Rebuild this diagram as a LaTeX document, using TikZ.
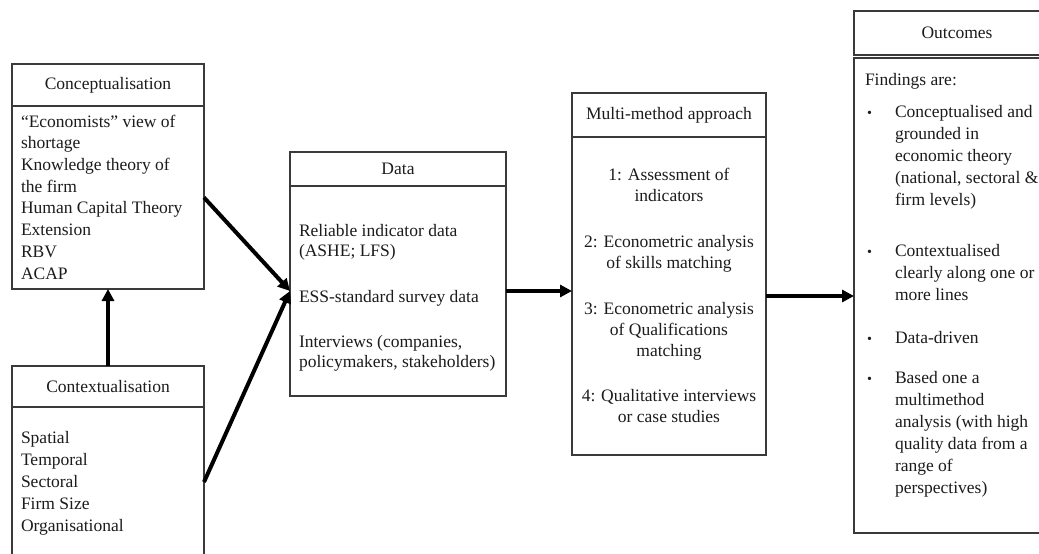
\documentclass[tikz,border=0pt]{standalone}
\usepackage{fontspec}
\setmainfont{Liberation Serif}
\usetikzlibrary{arrows.meta}
\definecolor{ink}{HTML}{1C1C1C}
\definecolor{rule}{HTML}{3A3A3A}
\tikzset{
  frame/.style={draw=rule, line width=1.3pt, inner sep=0pt, outer sep=0pt,
    anchor=north west, text=ink, font=\fontsize{17.5}{21.7}\selectfont},
  txt/.style={inner sep=0pt, outer sep=0pt, text=ink,
    font=\fontsize{17.5}{21.7}\selectfont},
  flow/.style={line width=4pt, -{Triangle[length=12pt,width=12pt]}},
}
\newcommand{\bul}{\llap{{\fontsize{14}{14}\selectfont\textbullet}\hspace{23pt}}}
\begin{document}
\begin{tikzpicture}[x=1pt,y=-1pt]
\clip (0,0) rectangle (1039,554);
\fill[white] (0,0) rectangle (1039,554);

% Multi-line text blocks are placed by the baseline of their last line.

% Conceptualisation
\node[frame, minimum width=192, minimum height=42] (chead) at (12,64) {Conceptualisation};
\node[frame, minimum width=192, minimum height=183] (cbody) at (12,106) {};
\node[txt, align=left, anchor=base west] (ctext) at (21,279)
  {“Economists” view of\\shortage\\Knowledge theory of\\the firm\\Human Capital Theory\\Extension\\RBV\\ACAP};

% Contextualisation
\node[frame, minimum width=192, minimum height=41] (xhead) at (12,366) {Contextualisation};
\node[frame, minimum width=192, minimum height=150] (xbody) at (12,407) {};
\node[txt, align=left, anchor=base west, font=\fontsize{17.5}{22}\selectfont] (xtext) at (21,531)
  {Spatial\\Temporal\\Sectoral\\Firm Size\\Organisational};

% Data
\node[frame, minimum width=216, minimum height=34] (dhead) at (290,152) {Data};
\node[frame, minimum width=216, minimum height=210] (dbody) at (290,186) {};
\node[txt, align=left, anchor=base west, font=\fontsize{17.5}{20}\selectfont] (dtext) at (299,367)
  {Reliable indicator data\\(ASHE; LFS)\\[26pt]ESS-standard survey data\\[25pt]Interviews (companies,\\policymakers, stakeholders)};

% Multi-method approach
\node[frame, minimum width=194, minimum height=44] (mhead) at (572,93) {Multi-method approach};
\node[frame, minimum width=194, minimum height=318] (mbody) at (572,137) {};
\node[txt, align=center, anchor=base, font=\fontsize{17.5}{21}\selectfont] (mtext) at (669,422)
  {1: Assessment of\\indicators\\[25pt]2: Econometric analysis\\of skills matching\\[25pt]3: Econometric analysis\\of Qualifications\\matching\\[24pt]4: Qualitative interviews\\or case studies};

% Outcomes
\node[frame, minimum width=206, minimum height=44] (ohead) at (854,11) {Outcomes};
\node[frame, minimum width=206, minimum height=475] (obody) at (854,58) {};
\node[txt, anchor=base west] (ofind) at (865,85) {Findings are:};
\node[txt, align=left, anchor=base west, font=\fontsize{17.5}{22}\selectfont] (o1) at (895,205)
  {\bul Conceptualised and\\grounded in\\economic theory\\(national, sectoral \&\\firm levels)};
\node[txt, align=left, anchor=base west] (o2) at (895,300)
  {\bul Contextualised\\clearly along one or\\more lines};
\node[txt, align=left, anchor=base west] (o3) at (895,343) {\bul Data-driven};
\node[txt, align=left, anchor=base west, font=\fontsize{17.5}{22}\selectfont] (o4) at (895,493)
  {\bul Based one a\\multimethod\\analysis (with high\\quality data from a\\range of\\perspectives)};

% Connectors
\draw[flow] (xhead.north) -- (cbody.south);
\draw[flow] (cbody.east) -- (dbody.west);
\draw[flow] (xbody.east) -- (dbody.west);
\draw[flow] (dbody.east) -- (dbody.east -| mbody.west);
\draw[flow] (mbody.east) -- (mbody.east -| obody.west);
\end{tikzpicture}
\end{document}
